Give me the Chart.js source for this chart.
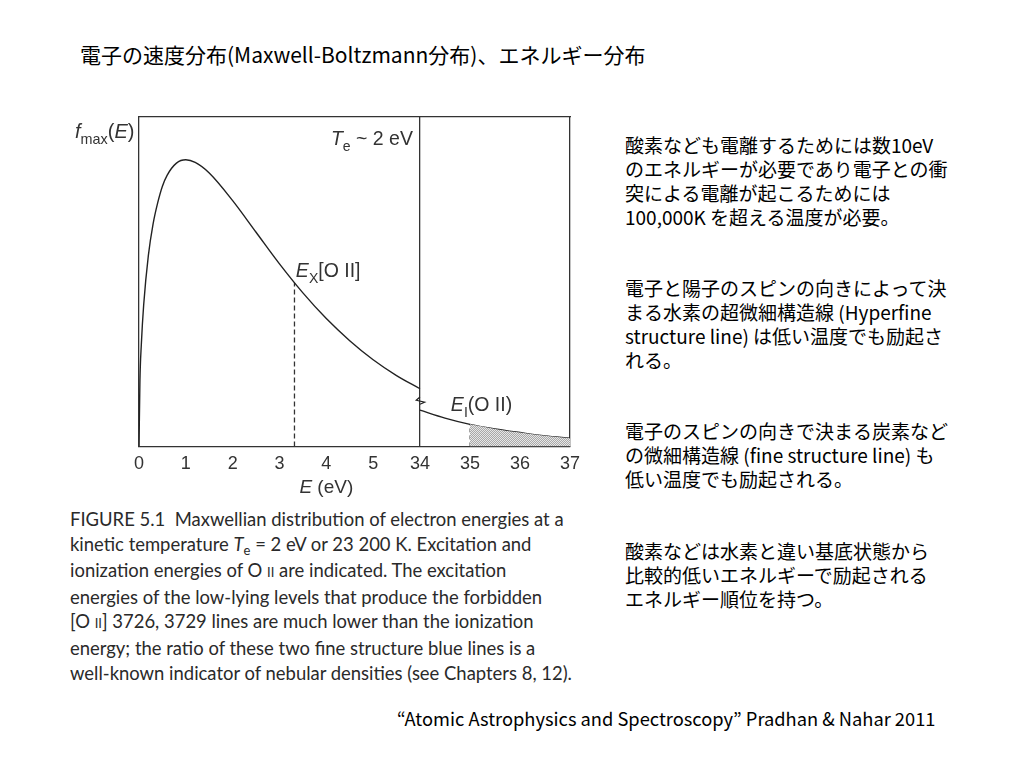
<!DOCTYPE html>
<html>
<head>
<meta charset="utf-8">
<script src="https://cdn.jsdelivr.net/npm/chart.js@4"></script>
<style>
body { margin: 0; width: 1024px; height: 768px; background: #fff; position: relative; overflow: hidden;
  font-family: "Noto Sans CJK JP", sans-serif; color: #000; }
#title { position: absolute; left: 80px; top: 39px; font-size: 21px; white-space: nowrap; }
#wrap { position: absolute; left: 60px; top: 95px; width: 540px; height: 410px; }
.note { position: absolute; left: 625px; font-size: 19px; line-height: 24px; white-space: nowrap; }
#caption { position: absolute; left: 70px; top: 507px; font-family: Lato, sans-serif; font-size: 18.45px;
  line-height: 24.6px; color: #2a2a2a; white-space: nowrap; }
#caption .sc { font-size: 13px; }
#caption .sub { font-size: 13px; position: relative; top: 4px; }
#cite { position: absolute; left: 397px; top: 705px; font-size: 18.3px; white-space: nowrap; }
</style>
</head>
<body>
<div id="title">電子の速度分布(Maxwell-Boltzmann分布)、エネルギー分布</div>
<div id="wrap"><canvas id="chart"></canvas></div>

<div class="note" style="top:133px">酸素なども電離するためには数10eV<br>のエネルギーが必要であり電子との衝<br>突による電離が起こるためには<br>100,000K を超える温度が必要。</div>
<div class="note" style="top:276px">電子と陽子のスピンの向きによって決<br>まる水素の超微細構造線 (Hyperfine<br>structure line) は低い温度でも励起さ<br>れる。</div>
<div class="note" style="top:419px">電子のスピンの向きで決まる炭素など<br>の微細構造線 (fine structure line) も<br>低い温度でも励起される。</div>
<div class="note" style="top:539px">酸素などは水素と違い基底状態から<br>比較的低いエネルギーで励起される<br>エネルギー順位を持つ。</div>

<div id="caption">FIGURE 5.1&nbsp; Maxwellian distribution of electron energies at a<br>kinetic temperature <i>T</i><span class="sub">e</span> = 2 eV or 23 200 K. Excitation and<br>ionization energies of O <span class="sc">II</span> are indicated. The excitation<br>energies of the low-lying levels that produce the forbidden<br>[O <span class="sc">II</span>] 3726, 3729 lines are much lower than the ionization<br>energy; the ratio of these two fine structure blue lines is a<br>well-known indicator of nebular densities (see Chapters 8, 12).</div>

<div id="cite">“Atomic Astrophysics and Spectroscopy” Pradhan &amp; Nahar 2011</div>

<script>
// energies (eV) and f_max(E), f scaled so the box top = 1
const leftE = [0, 0.02, 0.05, 0.1, 0.2, 0.3, 0.4, 0.5, 0.6, 0.8, 1.0, 1.2, 1.5, 2.0, 2.5, 3.0, 3.5, 4.0, 4.5, 5.0, 5.5, 6.0];
const leftF = [0, 0.2, 0.31, 0.43, 0.58, 0.675, 0.74, 0.79, 0.823, 0.86, 0.87, 0.862, 0.83, 0.746, 0.65, 0.554, 0.466, 0.388, 0.321, 0.263, 0.215, 0.175];
const rightE = [34, 34.5, 35, 35.5, 36, 36.5, 37];
const rightF = [0.11, 0.086, 0.067, 0.053, 0.042, 0.032, 0.025];
const tickE = [0, 1, 2, 3, 4, 5, 34, 35, 36, 37];
const excE = 3.32, excF = 0.497;   // E_X[O II]
const ionE = 35, ionF = 0.067;     // E_I(O II)
// axis break zigzag at 34 eV
const breakE = [34, 33.92, 34.1, 34];
const breakF = [0.15, 0.14, 0.134, 0.128];

// broken axis: 0..5 eV then 34..37 eV, right part slightly wider per eV
const RIGHT = 1.068;
const toU = e => e <= 6 ? e : 6 + (e - 34) * RIGHT;
const pts = (xs, ys) => xs.map((x, i) => ({ x: toU(x), y: ys[i] }));
const breakPts = breakE.map((e, i) => ({ x: 6 + (e - 34), y: breakF[i] }));

const ink = '#333';
const axisFont = { family: 'Liberation Sans', size: 18 };

// fine stipple for the shaded tail
const pc = document.createElement('canvas');
pc.width = 2; pc.height = 2;
const pctx = pc.getContext('2d');
pctx.fillStyle = '#e6e6e6'; pctx.fillRect(0, 0, 2, 2);
pctx.fillStyle = '#a8a8a8'; pctx.fillRect(0, 0, 1, 1); pctx.fillRect(1, 1, 1, 1);
const stipple = pctx.createPattern(pc, 'repeat');

const shadeE = rightE.filter(e => e >= ionE);
const shadeF = rightF.filter((f, i) => rightE[i] >= ionE);

const data = {
  datasets: [
    { data: pts(shadeE, shadeF), borderWidth: 0, pointRadius: 0, fill: 'origin',
      backgroundColor: stipple, cubicInterpolationMode: 'monotone' },
    { data: pts(leftE, leftF), borderColor: '#222', borderWidth: 1.4, pointRadius: 0, cubicInterpolationMode: 'monotone' },
    { data: pts(rightE, rightF), borderColor: '#222', borderWidth: 1.4, pointRadius: 0, cubicInterpolationMode: 'monotone' },
    { data: pts([excE, excE], [0, excF]), borderColor: '#333', borderWidth: 1.3, borderDash: [5, 3], pointRadius: 0 },
    { data: pts([ionE, ionE], [0, ionF]), borderColor: '#555', borderWidth: 1, borderDash: [4, 3], pointRadius: 0 },
    { data: breakPts, borderColor: '#222', borderWidth: 1.2, pointRadius: 0 }
  ]
};

// italic / subscript text pieces
function runs(ctx, x, y, parts, size, align) {
  const fontOf = p => (p[1] === 'i' ? 'italic ' : '') + (p[1] === 's' ? size * 0.72 : size) + 'px "Liberation Sans"';
  let w = 0;
  parts.forEach(p => { ctx.font = fontOf(p); w += ctx.measureText(p[0]).width; });
  let cx = align === 'right' ? x - w : align === 'center' ? x - w / 2 : x;
  parts.forEach(p => {
    ctx.font = fontOf(p);
    ctx.fillText(p[0], cx, p[1] === 's' ? y + size * 0.3 : y);
    cx += ctx.measureText(p[0]).width;
  });
}

const labels = {
  id: 'labels',
  afterDraw(chart) {
    const { ctx, chartArea, scales: { x, y } } = chart;
    ctx.save();
    ctx.fillStyle = ink;
    ctx.textBaseline = 'alphabetic';
    runs(ctx, chartArea.left - 64, chartArea.top + 21, [['f', 'i'], ['max', 's'], ['(', 'n'], ['E', 'i'], [')', 'n']], 20);
    runs(ctx, x.getPixelForValue(5.85), y.getPixelForValue(0.915), [['T', 'i'], ['e', 's'], [' ~ 2 eV', 'n']], 19.5, 'right');
    runs(ctx, x.getPixelForValue(3.35), y.getPixelForValue(0.514), [['E', 'i'], ['X', 's'], ['[O II]', 'n']], 19.5);
    runs(ctx, x.getPixelForValue(6.66), y.getPixelForValue(0.106), [['E', 'i'], ['I', 's'], ['(O II)', 'n']], 19.5);
    runs(ctx, x.getPixelForValue(4.0), chartArea.bottom + 47, [['E', 'i'], [' (eV)', 'n']], 19, 'center');
    ctx.restore();
  }
};

const config = {
  type: 'line',
  data: data,
  options: {
    responsive: true,
    maintainAspectRatio: false,
    animation: false,
    layout: { padding: { left: 79, top: 22, right: 30, bottom: 23 } },
    plugins: { legend: { display: false }, tooltip: { enabled: false } },
    scales: {
      x: {
        type: 'linear', min: 0, max: toU(37),
        afterBuildTicks: scale => { scale.ticks = tickE.map(e => ({ value: toU(e) })); },
        ticks: { color: ink, font: axisFont, padding: 7, autoSkip: false, maxRotation: 0,
          callback: (v, i) => String(tickE[i]) },
        grid: { drawTicks: false, lineWidth: 1.3,
          color: c => (c.tick && Math.abs(c.tick.value - 6) < 1e-6) ? ink : 'rgba(0,0,0,0)' },
        border: { display: true, color: ink, width: 1.3 }
      },
      xTop: {
        type: 'linear', position: 'top', min: 0, max: toU(37),
        ticks: { display: false }, grid: { display: false, drawTicks: false },
        border: { display: true, color: ink, width: 1.3 }
      },
      y: {
        min: 0, max: 1,
        ticks: { display: false }, grid: { display: false, drawTicks: false },
        border: { display: true, color: ink, width: 1.3 }
      },
      yRight: {
        position: 'right', min: 0, max: 1,
        ticks: { display: false }, grid: { display: false, drawTicks: false },
        border: { display: true, color: ink, width: 1.3 }
      }
    }
  },
  plugins: [labels]
};

new Chart(document.getElementById('chart').getContext('2d'), config);
</script>
</body>
</html>
